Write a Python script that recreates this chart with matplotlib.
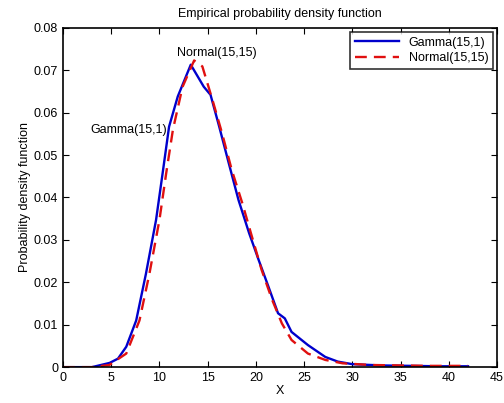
import matplotlib
matplotlib.use("Agg")
import matplotlib.pyplot as plt

plt.rcParams["font.family"] = ["Liberation Sans", "DejaVu Sans"]

# empirical densities
gamma_x = [0, 3, 4.84, 5.7, 6.56, 7.59, 8.6, 9.65, 10.33, 11.0, 11.9, 13.25, 14.6, 15.3,
           16.2, 17.2, 18.2, 19.3, 20.3, 21.3, 22.3, 23.0, 23.7, 25.4, 27.2, 28.5, 30, 33, 36, 39, 42]
gamma_y = [0, 0, 0.001, 0.002, 0.0048, 0.011, 0.022, 0.0347, 0.0457, 0.0567, 0.0638, 0.0713,
           0.0661, 0.0642, 0.0567, 0.048, 0.0394, 0.0316, 0.0252, 0.019, 0.0127, 0.0115, 0.0083,
           0.0052, 0.0024, 0.0013, 0.0007, 0.0004, 0.0003, 0.0002, 0.0002]

normal_x = [0, 3, 4.8, 6.56, 7.93, 8.96, 10.0, 10.7, 11.4, 12.4, 13.6, 14.45, 15.5, 16.5, 17.5,
            18.6, 19.6, 20.6, 21.7, 22.7, 23.7, 25.4, 27.2, 29, 32, 35, 38, 42]
normal_y = [0, 0, 0.0005, 0.0032, 0.011, 0.022, 0.0347, 0.0457, 0.056, 0.0661, 0.0723, 0.0709,
            0.063, 0.0551, 0.0465, 0.0386, 0.0307, 0.0229, 0.0158, 0.0103, 0.0064, 0.0032, 0.0017,
            0.0009, 0.0005, 0.0004, 0.0003, 0.0003]

fig = plt.figure(figsize=(5.04, 4.03), dpi=100)
ax = fig.add_axes([0.125, 0.089, 0.861, 0.842])

ax.plot(gamma_x, gamma_y, color="#0000cc", lw=1.7, label="Gamma(15,1)")
ax.plot(normal_x, normal_y, color="#e01010", lw=1.7, ls=(0, (5, 3)), label="Normal(15,15)")

ax.text(11.8, 0.0741, "Normal(15,15)", fontsize=9, va="center")
ax.text(2.8, 0.0559, "Gamma(15,1)", fontsize=9, va="center")

ax.set_xlim(0, 45)
ax.set_ylim(0, 0.08)
ax.set_xticks(range(0, 46, 5))
ax.set_yticks([i / 100 for i in range(9)])
ax.set_yticklabels(["0"] + [f"{i / 100:.2f}" for i in range(1, 9)])
ax.tick_params(direction="in", top=True, right=True, labelsize=9, length=4)
for s in ax.spines.values():
    s.set_linewidth(1.2)

ax.set_title("Empirical probability density function", fontsize=9, pad=8)
ax.set_xlabel("X", fontsize=9, labelpad=1)
ax.set_ylabel("Probability density function", fontsize=9, labelpad=2)

leg = ax.legend(loc="upper right", fontsize=9, fancybox=False, edgecolor="black",
                handlelength=3.5, borderaxespad=0.3, labelspacing=0.3)
leg.get_frame().set_linewidth(1.2)

fig.savefig("out.png", dpi=100)
